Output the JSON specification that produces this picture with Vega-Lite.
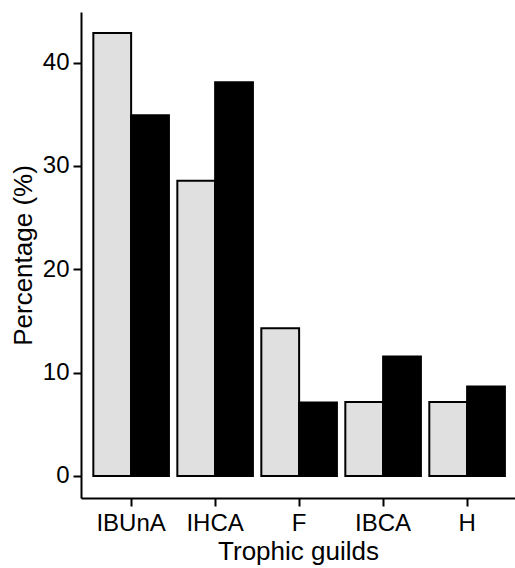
{
  "$schema": "https://vega.github.io/schema/vega-lite/v6.json",
  "autosize": {"type": "none"},
  "padding": {"left": 81, "top": 12, "right": 0, "bottom": 70},
  "width": 434,
  "height": 486,
  "background": "white",
  "config": {
    "view": {"stroke": null},
    "font": "Liberation Sans",
    "axis": {
      "grid": false,
      "domainColor": "black",
      "domainWidth": 2,
      "tickColor": "black",
      "tickWidth": 2,
      "tickSize": 8,
      "labelColor": "black",
      "labelFont": "Liberation Sans",
      "labelFontSize": 24,
      "titleFont": "Liberation Sans",
      "titleFontSize": 26,
      "titleFontWeight": "normal",
      "titleColor": "black"
    }
  },
  "data": {
    "values": [
      {"guild": "IBUnA", "group": "A", "pct": 42.86},
      {"guild": "IBUnA", "group": "B", "pct": 34.9},
      {"guild": "IHCA", "group": "A", "pct": 28.57},
      {"guild": "IHCA", "group": "B", "pct": 38.1},
      {"guild": "F", "group": "A", "pct": 14.29},
      {"guild": "F", "group": "B", "pct": 7.1},
      {"guild": "IBCA", "group": "A", "pct": 7.14},
      {"guild": "IBCA", "group": "B", "pct": 11.55},
      {"guild": "H", "group": "A", "pct": 7.14},
      {"guild": "H", "group": "B", "pct": 8.65}
    ]
  },
  "mark": {"type": "bar", "stroke": "black", "strokeWidth": 2},
  "encoding": {
    "x": {
      "field": "guild",
      "type": "nominal",
      "sort": ["IBUnA", "IHCA", "F", "IBCA", "H"],
      "scale": {"paddingInner": 0.1, "paddingOuter": 0.1335, "align": 0.55},
      "axis": {"title": "Trophic guilds", "labelAngle": 0, "labelPadding": 5, "titlePadding": 3}
    },
    "xOffset": {"field": "group", "type": "nominal", "sort": ["A", "B"]},
    "y": {
      "field": "pct",
      "type": "quantitative",
      "scale": {"domain": [-2.14, 44.9], "nice": false, "zero": false},
      "axis": {"title": "Percentage (%)", "values": [0, 10, 20, 30, 40], "labelPadding": 4, "titlePadding": 6}
    },
    "y2": {"datum": 0},
    "color": {
      "field": "group",
      "type": "nominal",
      "scale": {"domain": ["A", "B"], "range": ["#e0e0e0", "#000000"]},
      "legend": null
    }
  }
}
